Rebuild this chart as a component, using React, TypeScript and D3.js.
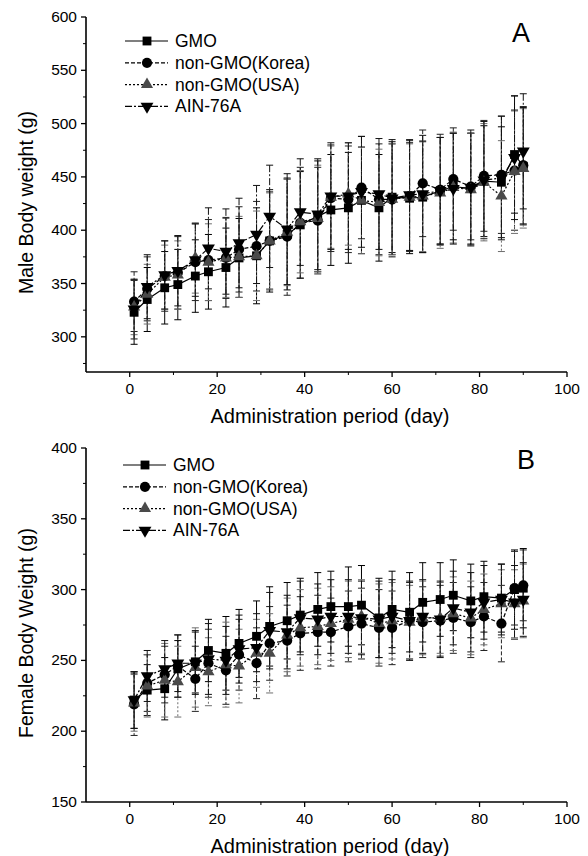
import * as d3 from 'd3';

// --- data ---
const days = [1, 4, 8, 11, 15, 18, 22, 25, 29, 32, 36, 39, 43, 46, 50, 53, 57, 60, 64, 67, 71, 74, 78, 81, 85, 88, 90];
const seriesNames = ['GMO', 'non-GMO(Korea)', 'non-GMO(USA)', 'AIN-76A'];

// Panel A: male body weight (g)
const maleGMO = [323, 335, 346, 349, 357, 361, 365, 374, 376, 390, 396, 405, 413, 419, 421, 428, 421, 431, 430, 431, 437, 441, 439, 446, 445, 471, 460];
const maleKorea = [333, 345, 357, 360, 370, 372, 374, 382, 385, 390, 394, 407, 409, 430, 429, 440, 429, 429, 432, 444, 438, 448, 441, 451, 452, 456, 461];
const maleUSA = [328, 340, 356, 358, 374, 370, 374, 375, 376, 390, 398, 408, 411, 431, 434, 428, 426, 429, 431, 432, 435, 440, 438, 445, 432, 455, 458];
const maleAIN = [326, 347, 358, 362, 372, 383, 380, 388, 396, 413, 401, 417, 415, 432, 432, 436, 434, 430, 433, 434, 437, 439, 440, 447, 449, 468, 474];
const maleGMOsd = [30, 30, 34, 33, 34, 35, 37, 37, 45, 48, 52, 50, 52, 52, 52, 50, 50, 52, 52, 52, 50, 50, 52, 52, 52, 55, 55];
const maleKoreaSd = [28, 30, 33, 34, 36, 38, 38, 40, 42, 46, 55, 52, 50, 50, 50, 48, 52, 52, 52, 50, 52, 48, 50, 52, 55, 56, 55];
const maleUSAsd = [26, 28, 30, 32, 33, 36, 37, 38, 42, 45, 50, 48, 50, 48, 48, 50, 50, 52, 50, 52, 52, 52, 53, 55, 52, 58, 56];
const maleAINsd = [28, 30, 32, 33, 34, 38, 40, 42, 46, 48, 52, 50, 52, 50, 50, 52, 52, 55, 52, 55, 50, 52, 54, 55, 58, 58, 54];

// Panel B: female body weight (g)
const femaleGMO = [222, 229, 230, 244, 249, 257, 255, 262, 267, 274, 278, 282, 286, 288, 288, 289, 280, 286, 284, 291, 293, 296, 292, 295, 294, 300, 301];
const femaleKorea = [219, 234, 240, 246, 237, 248, 243, 254, 248, 262, 264, 269, 270, 270, 274, 276, 273, 273, 278, 277, 278, 280, 277, 281, 276, 301, 303];
const femaleUSA = [220, 232, 236, 235, 245, 242, 247, 246, 255, 255, 268, 273, 274, 276, 279, 281, 276, 278, 277, 280, 280, 283, 280, 286, 290, 290, 292];
const femaleAIN = [222, 239, 244, 248, 248, 251, 250, 258, 259, 271, 270, 280, 279, 281, 281, 280, 279, 281, 278, 281, 279, 287, 284, 291, 293, 291, 293];
const femaleGMOsd = [20, 18, 22, 20, 22, 22, 26, 24, 25, 28, 27, 26, 26, 25, 28, 28, 28, 27, 28, 28, 26, 25, 26, 25, 24, 28, 28];
const femaleKoreaSd = [22, 20, 20, 22, 23, 24, 24, 25, 25, 26, 25, 26, 26, 24, 25, 25, 27, 26, 27, 25, 25, 25, 25, 24, 27, 26, 25];
const femaleUSAsd = [20, 22, 26, 25, 28, 24, 30, 26, 24, 28, 26, 27, 27, 26, 27, 26, 28, 27, 26, 26, 25, 26, 26, 25, 24, 24, 26];
const femaleAINsd = [20, 18, 20, 20, 22, 25, 24, 24, 24, 27, 26, 26, 25, 26, 26, 26, 27, 26, 28, 26, 27, 26, 28, 26, 25, 26, 26];

const xTicks = [0, 20, 40, 60, 80, 100];
const xMinorTicks = [10, 30, 50, 70, 90];
const maleYTicks = [300, 350, 400, 450, 500, 550, 600];
const maleYMinor = [275, 325, 375, 425, 475, 525, 575];
const femaleYTicks = [150, 200, 250, 300, 350, 400];
const femaleYMinor = [175, 225, 275, 325, 375];

const FONT = '"Liberation Sans", Arial, sans-serif';

// per-series drawing style
const styles = [
  { symbol: d3.symbolSquare, size: 78, rotate: 0, fill: '#000', dash: null, bar: '#000' },
  { symbol: d3.symbolCircle, size: 82, rotate: 0, fill: '#000', dash: '4,2', bar: '#222' },
  { symbol: d3.symbolTriangle, size: 64, rotate: 0, fill: '#4a4a4a', dash: '2,2', bar: '#6e6e6e' },
  { symbol: d3.symbolTriangle, size: 72, rotate: 180, fill: '#000', dash: '7,2,2,2', bar: '#111' },
];

type PanelProps = {
  letter: string;
  yLabel: string;
  top: number;
  bottom: number;
  yDomain: [number, number];
  yTicks: number[];
  yMinor: number[];
  means: number[][];
  sds: number[][];
  legendY: number;
  legendX: number;
  letterPos: [number, number];
};

const Panel = ({ letter, yLabel, top, bottom, yDomain, yTicks, yMinor, means, sds, legendY, legendX, letterPos }: PanelProps) => {
  const x = d3.scaleLinear().domain([-10, 100]).range([86, 567]);
  const y = d3.scaleLinear().domain(yDomain).range([bottom, top]);
  const left = x(-10);
  const right = x(100);

  return (
    <g>
      {/* error bars */}
      {means.map((m, s) => (
        <g key={'eb' + s} stroke={styles[s].bar} strokeWidth={1} strokeDasharray={styles[s].dash || undefined}>
          {days.map((d, i) => {
            const cx = x(d);
            const hi = y(m[i] + sds[s][i]);
            const lo = y(m[i] - sds[s][i]);
            return (
              <g key={i}>
                <line x1={cx} x2={cx} y1={hi} y2={lo} />
                <line x1={cx - 3.5} x2={cx + 3.5} y1={hi} y2={hi} strokeDasharray="none" />
                <line x1={cx - 3.5} x2={cx + 3.5} y1={lo} y2={lo} strokeDasharray="none" />
              </g>
            );
          })}
        </g>
      ))}

      {/* series lines */}
      {means.map((m, s) => {
        const line = d3.line<number>().x((_, i) => x(days[i])).y((v) => y(v));
        return (
          <path key={'ln' + s} d={line(m) || ''} fill="none" stroke="#000" strokeWidth={1.2}
            strokeDasharray={styles[s].dash || undefined} />
        );
      })}

      {/* markers */}
      {means.map((m, s) => {
        const sym = d3.symbol().type(styles[s].symbol).size(styles[s].size)();
        return (
          <g key={'mk' + s} fill={styles[s].fill}>
            {days.map((d, i) => (
              <path key={i} d={sym || ''} transform={`translate(${x(d)},${y(m[i])}) rotate(${styles[s].rotate})`} />
            ))}
          </g>
        );
      })}

      {/* axes */}
      <line x1={left} x2={right} y1={bottom} y2={bottom} stroke="#000" strokeWidth={1.6} />
      <line x1={left} x2={left} y1={top} y2={bottom} stroke="#000" strokeWidth={1.6} />
      {xTicks.map((t) => (
        <g key={'xt' + t}>
          <line x1={x(t)} x2={x(t)} y1={bottom} y2={bottom + 5} stroke="#000" strokeWidth={1.3} />
          <text x={x(t)} y={bottom + 22} textAnchor="middle" fontSize={15.5} fontFamily={FONT}>{t}</text>
        </g>
      ))}
      {xMinorTicks.map((t) => (
        <line key={'xm' + t} x1={x(t)} x2={x(t)} y1={bottom} y2={bottom + 3} stroke="#000" strokeWidth={1} />
      ))}
      {yTicks.map((t) => (
        <g key={'yt' + t}>
          <line x1={left - 5} x2={left} y1={y(t)} y2={y(t)} stroke="#000" strokeWidth={1.3} />
          <text x={left - 9} y={y(t) + 5} textAnchor="end" fontSize={15.5} fontFamily={FONT}>{t}</text>
        </g>
      ))}
      {yMinor.map((t) => (
        <line key={'ym' + t} x1={left - 3} x2={left} y1={y(t)} y2={y(t)} stroke="#000" strokeWidth={1} />
      ))}

      {/* titles */}
      <text x={330} y={bottom + 51} textAnchor="middle" fontSize={20} fontFamily={FONT}>
        Administration period (day)
      </text>
      <text transform={`translate(33,${(top + bottom) / 2 + 8}) rotate(-90)`} textAnchor="middle" fontSize={19.5} fontFamily={FONT}>
        {yLabel}
      </text>
      <text x={letterPos[0]} y={letterPos[1]} textAnchor="middle" fontSize={27} fontFamily={FONT}>{letter}</text>

      {/* legend */}
      {seriesNames.map((name, s) => {
        const ly = legendY + s * 21.8;
        const sym = d3.symbol().type(styles[s].symbol).size(styles[s].size)();
        return (
          <g key={'lg' + s}>
            <line x1={legendX} x2={legendX + 43} y1={ly} y2={ly} stroke="#000" strokeWidth={1.2}
              strokeDasharray={styles[s].dash || undefined} />
            <path d={sym || ''} fill={styles[s].fill} transform={`translate(${legendX + 22},${ly}) rotate(${styles[s].rotate})`} />
            <text x={legendX + 50} y={ly + 6} fontSize={17.5} fontFamily={FONT}>{name}</text>
          </g>
        );
      })}
    </g>
  );
};

export default function App() {
  return (
    <svg width={588} height={856} style={{ position: 'absolute', left: 0, top: 0, background: '#fff' }}>
      <rect width={588} height={856} fill="#fff" />
      <Panel
        letter="A"
        yLabel="Male Body weight (g)"
        top={17}
        bottom={372}
        yDomain={[267, 600]}
        yTicks={maleYTicks}
        yMinor={maleYMinor}
        means={[maleGMO, maleKorea, maleUSA, maleAIN]}
        sds={[maleGMOsd, maleKoreaSd, maleUSAsd, maleAINsd]}
        legendX={125}
        legendY={41}
        letterPos={[521, 42]}
      />
      <Panel
        letter="B"
        yLabel="Female Body Weight (g)"
        top={448}
        bottom={802}
        yDomain={[150, 400]}
        yTicks={femaleYTicks}
        yMinor={femaleYMinor}
        means={[femaleGMO, femaleKorea, femaleUSA, femaleAIN]}
        sds={[femaleGMOsd, femaleKoreaSd, femaleUSAsd, femaleAINsd]}
        legendX={123}
        legendY={465}
        letterPos={[526, 469]}
      />
    </svg>
  );
}
